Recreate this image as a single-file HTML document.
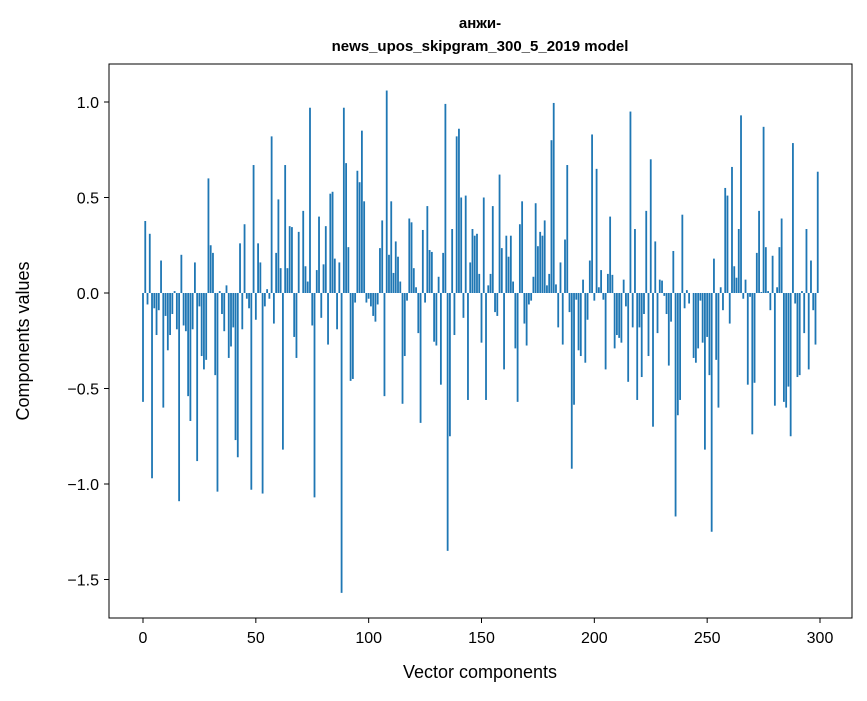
<!DOCTYPE html>
<html><head><meta charset="utf-8"><style>
body{margin:0;background:#fff}
text{font-family:"Liberation Sans","DejaVu Sans",sans-serif;fill:#000}
</style></head><body>
<svg id="chart" width="867" height="696" xmlns="http://www.w3.org/2000/svg">
<rect width="867" height="696" fill="#fff"/>
<text x="480" y="28" font-size="15" font-weight="bold" text-anchor="middle">анжи-</text>
<text x="480" y="51" font-size="15" font-weight="bold" text-anchor="middle">news_upos_skipgram_300_5_2019 model</text>
<g id="bars"></g>
<g id="axes"></g>
<rect x="109" y="64" width="743" height="554" fill="none" stroke="#000" stroke-width="1"/>
<text x="480" y="678" font-size="18" text-anchor="middle">Vector components</text>
<text x="0" y="0" font-size="18" text-anchor="middle" transform="translate(29,341) rotate(-90)">Components values</text>
</svg>
<script>
const values = [-0.57,0.377,-0.06,0.31,-0.97,-0.08,-0.22,-0.09,0.17,-0.6,
-0.12,-0.3,-0.22,-0.11,0.01,-0.19,-1.09,0.2,-0.17,-0.2,
-0.54,-0.67,-0.19,0.16,-0.88,-0.07,-0.33,-0.4,-0.35,0.6,
0.25,0.21,-0.43,-1.04,0.01,-0.11,-0.2,0.04,-0.34,-0.28,
-0.18,-0.77,-0.86,0.26,-0.19,0.36,-0.03,-0.08,-1.03,0.67,
-0.14,0.26,0.16,-1.05,-0.07,0.02,-0.03,0.82,-0.16,0.21,
0.49,0.13,-0.82,0.67,0.13,0.35,0.345,-0.23,-0.34,0.32,
0.0,0.43,0.14,0.06,0.97,-0.17,-1.07,0.12,0.4,-0.13,
0.15,0.35,-0.27,0.52,0.53,0.18,-0.19,0.16,-1.57,0.97,
0.68,0.24,-0.46,-0.45,-0.05,0.64,0.58,0.85,0.48,-0.05,
-0.03,-0.07,-0.12,-0.15,-0.06,0.235,0.38,-0.54,1.06,0.2,
0.48,0.105,0.27,0.19,0.06,-0.58,-0.33,-0.04,0.39,0.37,
0.13,0.03,-0.21,-0.68,0.33,-0.05,0.455,0.225,0.215,-0.255,
-0.275,0.085,-0.48,0.21,0.99,-1.35,-0.75,0.335,-0.22,0.82,
0.86,0.5,-0.13,0.51,-0.56,0.16,0.335,0.3,0.31,0.1,
-0.26,0.5,-0.56,0.04,0.1,0.455,-0.1,-0.12,0.62,0.235,
-0.4,0.3,0.19,0.3,0.06,-0.29,-0.57,0.36,0.48,-0.16,
-0.275,-0.06,-0.04,0.085,0.47,0.245,0.32,0.3,0.38,0.04,
0.1,0.8,0.995,0.045,-0.18,0.16,-0.27,0.28,0.67,-0.1,
-0.92,-0.585,-0.035,-0.3,-0.33,0.07,-0.365,-0.14,0.17,0.83,
-0.04,0.65,0.03,0.12,-0.035,-0.4,0.1,0.4,0.095,-0.29,
-0.22,-0.235,-0.26,0.07,-0.07,-0.465,0.95,-0.18,0.335,-0.56,
-0.18,-0.44,-0.11,0.43,-0.33,0.7,-0.7,0.27,-0.21,0.07,
0.065,-0.015,-0.11,-0.38,-0.15,0.22,-1.17,-0.64,-0.56,0.41,
-0.08,0.015,-0.055,0.0,-0.34,-0.365,-0.29,-0.04,-0.26,-0.82,
-0.23,-0.43,-1.25,0.18,-0.35,-0.6,0.03,-0.09,0.55,0.51,
-0.16,0.66,0.14,0.08,0.335,0.93,-0.03,0.07,-0.48,-0.02,
-0.74,-0.47,0.21,0.43,0.005,0.87,0.24,0.01,-0.09,0.195,
-0.59,0.03,0.24,0.39,-0.57,-0.6,-0.49,-0.75,0.785,-0.055,
-0.44,-0.43,0.01,-0.21,0.335,-0.4,0.17,-0.09,-0.27,0.635];
const xTicks = [0,50,100,150,200,250,300];
const yTicks = [1.0,0.5,0.0,-0.5,-1.0,-1.5];
const yTickLabels = ["1.0","0.5","0.0","\u22120.5","\u22121.0","\u22121.5"];

const NS="http://www.w3.org/2000/svg";
const X0=143, XS=(820-143)/300, Y0=293, YS=191;
function xs(v){return X0+v*XS;}
function ys(v){return Y0-v*YS;}
const bars=document.getElementById('bars');
values.forEach((v,i)=>{
  const r=document.createElementNS(NS,'rect');
  
  
  const x=xs(i-0.4), w=0.8*XS;
  const y=Math.min(ys(v),ys(0)), h=Math.abs(ys(v)-ys(0));
  r.setAttribute('x',x);r.setAttribute('y',y);r.setAttribute('width',w);r.setAttribute('height',h);
  r.setAttribute('fill','#1f77b4');
  bars.appendChild(r);
});
const axes=document.getElementById('axes');
xTicks.forEach(t=>{
  const l=document.createElementNS(NS,'line');
  
  
  l.setAttribute('x1',xs(t));l.setAttribute('x2',xs(t));l.setAttribute('y1',618);l.setAttribute('y2',623);
  l.setAttribute('stroke','#000');
  axes.appendChild(l);
  const tx=document.createElementNS(NS,'text');
  
  
  tx.setAttribute('x',xs(t));tx.setAttribute('y',643);tx.setAttribute('font-size','16');tx.setAttribute('text-anchor','middle');
  tx.textContent=String(t);
  axes.appendChild(tx);
});
yTicks.forEach((t,i)=>{
  const l=document.createElementNS(NS,'line');
  
  
  l.setAttribute('x1',104);l.setAttribute('x2',109);l.setAttribute('y1',ys(t));l.setAttribute('y2',ys(t));
  l.setAttribute('stroke','#000');
  axes.appendChild(l);
  const tx=document.createElementNS(NS,'text');
  
  
  tx.setAttribute('x',99);tx.setAttribute('y',ys(t)+6);tx.setAttribute('font-size','16');tx.setAttribute('text-anchor','end');
  tx.textContent=yTickLabels[i];
  axes.appendChild(tx);
});
</script>
</body></html>
